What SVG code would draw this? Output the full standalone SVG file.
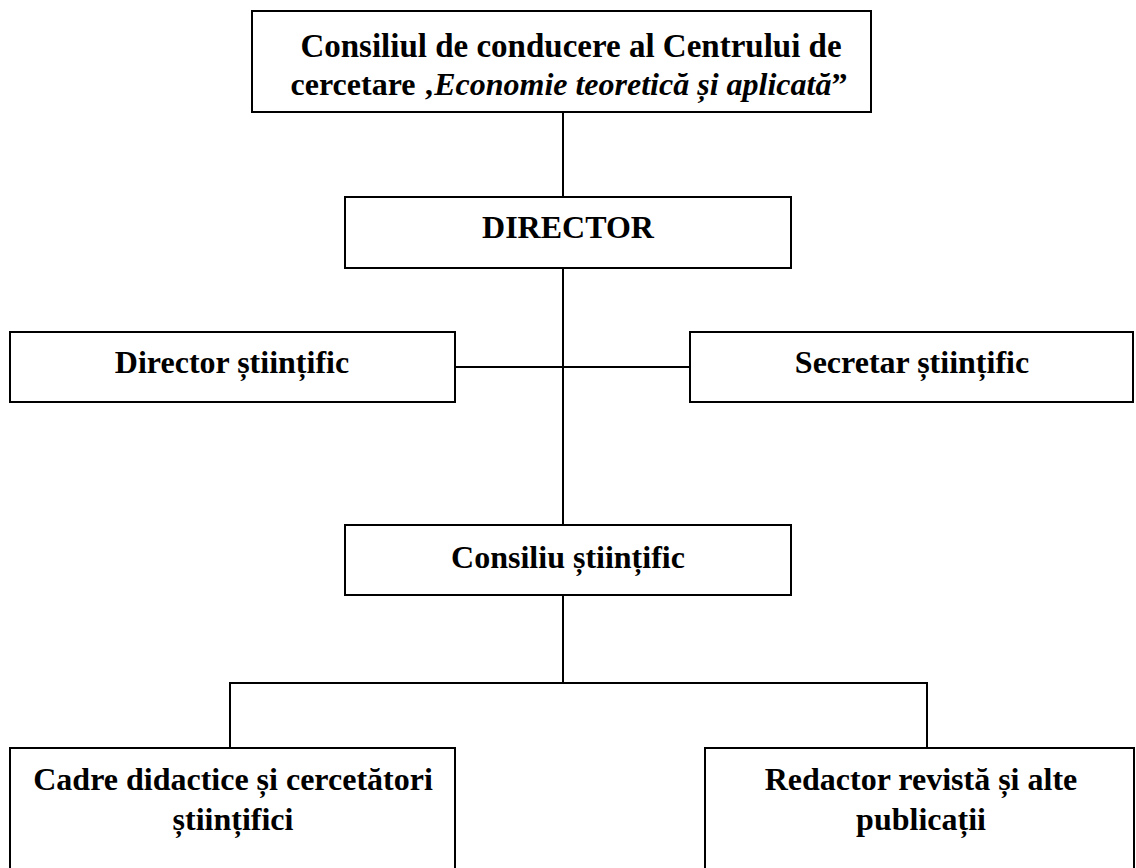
<svg xmlns="http://www.w3.org/2000/svg" width="1136" height="868" viewBox="0 0 1136 868">
<style>
.box{fill:#fff;stroke:#000;stroke-width:2}
.lbl{font-family:"Liberation Serif","Times New Roman",serif;font-weight:bold;font-size:32px;fill:#000;text-anchor:middle}
.it{font-style:italic}
.conn line{stroke:#000;stroke-width:2}
</style>
<rect width="1136" height="868" fill="#fff"/>
<g class="conn" id="connectors">
<line x1="563" y1="112" x2="563" y2="197"/>
<line x1="563" y1="268" x2="563" y2="525"/>
<line x1="455" y1="367" x2="690" y2="367"/>
<line x1="563" y1="595" x2="563" y2="683"/>
<line x1="229" y1="683" x2="928" y2="683"/>
<line x1="230" y1="682" x2="230" y2="748"/>
<line x1="927" y1="682" x2="927" y2="748"/>
</g>
<g id="consiliul-conducere">
<rect class="box" x="252" y="11" width="619" height="101"/>
<text class="lbl" x="571" y="57" style="font-size:33px">Consiliul de conducere al Centrului de</text>
<text class="lbl" x="569" y="95">cercetare ‚<tspan class="it">Economie teoretică și aplicată</tspan>”</text>
</g>
<g id="director">
<rect class="box" x="345" y="197" width="446" height="71"/>
<text class="lbl" x="568" y="238">DIRECTOR</text>
</g>
<g id="director-stiintific">
<rect class="box" x="10" y="332" width="445" height="70"/>
<text class="lbl" x="232" y="373">Director științific</text>
</g>
<g id="secretar-stiintific">
<rect class="box" x="690" y="332" width="443" height="70"/>
<text class="lbl" x="912" y="373">Secretar științific</text>
</g>
<g id="consiliu-stiintific">
<rect class="box" x="345" y="525" width="446" height="70"/>
<text class="lbl" x="568" y="568">Consiliu științific</text>
</g>
<g id="cadre-didactice">
<rect class="box" x="10" y="748" width="445" height="130"/>
<text class="lbl" x="233" y="790">Cadre didactice și cercetători</text>
<text class="lbl" x="233" y="830">științifici</text>
</g>
<g id="redactor-revista">
<rect class="box" x="705" y="748" width="429" height="130"/>
<text class="lbl" x="921" y="790">Redactor revistă și alte</text>
<text class="lbl" x="921" y="830">publicații</text>
</g>
</svg>
